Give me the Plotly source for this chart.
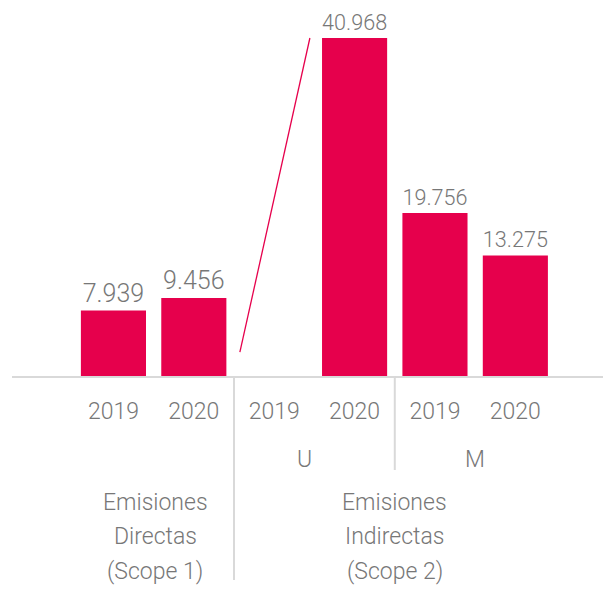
import plotly.graph_objects as go

# data (bar heights as drawn; the M 2020 bar is drawn taller than its label)
years = ["2019", "2020", "2019", "2020", "2019", "2020"]
values = [7.939, 9.456, 0, 40.968, 19.756, 14.6]
labels = ["7.939", "9.456", "", "40.968", "19.756", "13.275"]
sub_groups = ["U", "M"]
group_lines = [
    ["Emisiones", "Directas", "(Scope 1)"],
    ["Emisiones", "Indirectas", "(Scope 2)"],
]

bar_color = "#E6004C"
text_color = "#777777"
line_color = "#d9d9d9"
font_family = "Roboto"
plot_h = 368  # pixel height of plot area

x_pos = list(range(len(values)))

fig = go.Figure(
    go.Bar(
        x=x_pos,
        y=values,
        text=labels,
        textposition="outside",
        textfont=dict(size=25, color=text_color, family=font_family, weight=300),
        marker=dict(color=bar_color, line=dict(width=0)),
        width=0.81,
        cliponaxis=False,
        hoverinfo="skip",
    )
)

# leader line next to the empty U 2019 bar
fig.add_shape(type="line", xref="x", yref="y", x0=1.573, y0=2.9, x1=2.444, y1=values[3],
              line=dict(color=bar_color, width=1.3))

# separators
fig.add_shape(type="line", xref="x", yref="paper", x0=1.5, x1=1.5, y0=0, y1=-204 / plot_h,
              line=dict(color=line_color, width=2))
fig.add_shape(type="line", xref="x", yref="paper", x0=3.5, x1=3.5, y0=0, y1=-94 / plot_h,
              line=dict(color=line_color, width=2))

# sub-group labels
for xp, txt in zip([2.38, 4.5], sub_groups):
    fig.add_annotation(x=xp, y=-84 / plot_h, xref="x", yref="paper", text=txt, showarrow=False,
                       yanchor="middle",
                       font=dict(size=23, color=text_color, family=font_family, weight=300))

# group labels, one annotation per line
for xp, lines in zip([0.52, 3.5], group_lines):
    for k, txt in enumerate(lines):
        fig.add_annotation(x=xp, y=-(126 + 34.5 * k) / plot_h, xref="x", yref="paper",
                           text=txt, showarrow=False, yanchor="middle",
                           font=dict(size=23, color=text_color, family=font_family, weight=300))

fig.update_layout(
    width=603,
    height=582,
    margin=dict(l=4, r=0, t=0, b=214),
    paper_bgcolor="white",
    plot_bgcolor="white",
    showlegend=False,
    xaxis=dict(
        range=[-1.262, 6.19],
        tickvals=x_pos,
        ticktext=years,
        ticks="",
        ticklabelstandoff=13,
        tickfont=dict(size=23, color=text_color, family=font_family, weight=300),
        showline=True,
        linecolor=line_color,
        linewidth=2,
        showgrid=False,
        zeroline=False,
        fixedrange=True,
    ),
    yaxis=dict(
        range=[0, 368 / 8.25],
        visible=False,
        showgrid=False,
        zeroline=False,
        fixedrange=True,
    ),
)

fig.write_html("out.html")
